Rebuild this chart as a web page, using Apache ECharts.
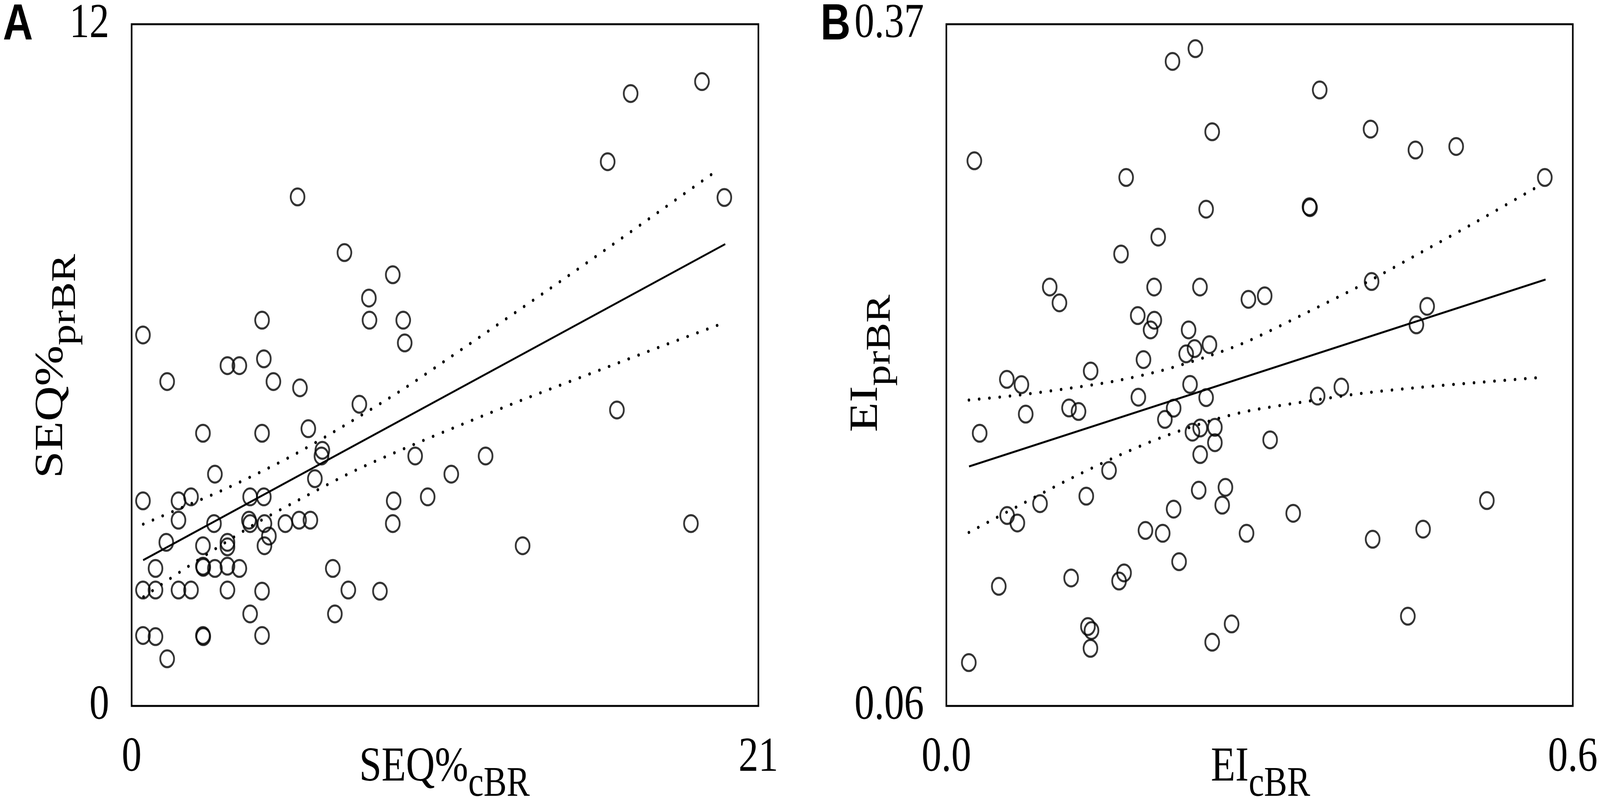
<!DOCTYPE html>
<html>
<head>
<meta charset="utf-8">
<script src="https://cdn.jsdelivr.net/npm/echarts@6/dist/echarts.min.js"></script>
<style>
html,body{margin:0;padding:0;background:#fff;overflow:hidden;}
#chart{width:4996px;height:2058px;transform-origin:0 0;}
</style>
</head>
<body>
<div id="chart"></div>
<script>
// ---------- Panel A: SEQ%cBR (x) vs SEQ%prBR (y) ----------
const scatterA = [
  [19.11,10.99],[16.72,10.78],[15.95,9.58],[19.86,8.95],[5.56,8.96],[7.13,7.98],[8.75,7.59],
  [7.95,7.18],[7.97,6.79],[9.10,6.79],[9.15,6.39],[4.37,6.79],[0.38,6.53],[4.43,6.11],
  [3.21,5.99],[3.61,5.99],[1.19,5.71],[4.75,5.71],[5.64,5.60],[7.63,5.31],[16.26,5.21],
  [2.39,4.80],[4.37,4.80],[5.92,4.88],[6.39,4.50],[6.36,4.40],[9.50,4.40],[11.86,4.40],
  [10.71,4.08],[2.79,4.08],[6.14,4.00],[0.38,3.61],[1.57,3.61],[1.99,3.68],[3.97,3.68],
  [4.43,3.68],[8.78,3.61],[9.92,3.68],[1.57,3.27],[2.76,3.21],[3.93,3.27],[3.97,3.21],
  [4.45,3.21],[5.15,3.21],[5.61,3.27],[5.99,3.27],[8.75,3.21],[18.74,3.21],[4.60,2.99],
  [1.16,2.88],[2.39,2.82],[3.21,2.88],[3.21,2.80],[4.45,2.82],[13.10,2.82],[0.80,2.42],
  [2.39,2.46],[2.40,2.44],[2.79,2.42],[3.21,2.46],[3.61,2.42],[6.74,2.42],[0.38,2.04],
  [0.80,2.04],[1.57,2.04],[1.99,2.04],[3.21,2.04],[4.37,2.02],[7.26,2.04],[8.32,2.02],
  [3.97,1.62],[6.81,1.62],[0.38,1.24],[0.80,1.22],[2.39,1.24],[2.40,1.22],[4.37,1.24],
  [1.19,0.83]
];
const fitLineA = [[0.385,2.566],[19.89,8.13]];
const upperBandA = [[0.39,3.20],[1.68,3.49],[2.97,3.78],[4.25,4.10],[5.54,4.45],[7.14,4.94],
  [9.08,5.57],[10.68,6.14],[13.89,7.30],[15.82,8.01],[17.75,8.73],[19.68,9.45]];
const lowerBandA = [[0.40,1.92],[1.68,2.38],[2.97,2.82],[4.25,3.24],[5.54,3.61],[7.47,4.14],
  [9.40,4.59],[11.32,5.01],[13.25,5.42],[15.82,5.94],[17.75,6.33],[19.68,6.71]];
const xTicksA = [0, 21];
const yTicksA = [0, 12];

// ---------- Panel B: EIcBR (x) vs EIprBR (y) ----------
const scatterB = [
  [0.2385,0.3589],[0.2166,0.3531],[0.3576,0.3401],[0.2546,0.3211],[0.4063,0.3223],[0.4493,0.3128],
  [0.4883,0.3144],[0.0268,0.3079],[0.1722,0.3003],[0.5732,0.3003],[0.2488,0.2859],[0.3483,0.2866],
  [0.3478,0.2870],[0.2029,0.2732],[0.1673,0.2655],[0.0990,0.2505],[0.1083,0.2433],[0.1990,0.2505],
  [0.2429,0.2505],[0.2893,0.2449],[0.3049,0.2465],[0.4073,0.2530],[0.4605,0.2417],[0.4502,0.2333],
  [0.1833,0.2375],[0.1992,0.2354],[0.1956,0.2310],[0.2320,0.2310],[0.2520,0.2243],[0.2377,0.2225],
  [0.2297,0.2201],[0.1888,0.2175],[0.1382,0.2123],[0.0579,0.2085],[0.0719,0.2061],[0.2334,0.2062],
  [0.1839,0.2004],[0.2488,0.2002],[0.3556,0.2009],[0.3783,0.2050],[0.0760,0.1927],[0.1175,0.1955],
  [0.1266,0.1939],[0.2177,0.1954],[0.2093,0.1903],[0.0319,0.1840],[0.2431,0.1864],[0.2357,0.1845],
  [0.2572,0.1867],[0.2572,0.1797],[0.3101,0.1810],[0.2431,0.1743],[0.1558,0.1671],[0.1340,0.1554],
  [0.0897,0.1520],[0.2417,0.1581],[0.2673,0.1594],[0.2642,0.1513],[0.2177,0.1495],[0.3322,0.1476],
  [0.5177,0.1534],[0.0582,0.1466],[0.0680,0.1432],[0.1907,0.1398],[0.2072,0.1385],[0.2875,0.1385],
  [0.4566,0.1404],[0.4083,0.1358],[0.0502,0.1144],[0.1195,0.1182],[0.1702,0.1205],[0.1654,0.1168],
  [0.2229,0.1256],[0.1356,0.0961],[0.1390,0.0943],[0.1380,0.0862],[0.2732,0.0973],[0.2546,0.0890],
  [0.4420,0.1008],[0.0215,0.0797]
];
const fitLineB = [[0.0217,0.1689],[0.5739,0.2539]];
const upperBandB = [[0.0216,0.1991],[0.0680,0.2013],[0.1140,0.2042],[0.1601,0.2076],[0.2060,0.2125],
  [0.2524,0.2193],[0.2890,0.2259],[0.3441,0.2386],[0.3989,0.2517],[0.4541,0.2661],[0.5092,0.2806],[0.5647,0.2957]];
const lowerBandB = [[0.0216,0.1389],[0.0680,0.1507],[0.1140,0.1622],[0.1601,0.1728],[0.2060,0.1821],
  [0.2524,0.1896],[0.2890,0.1941],[0.3441,0.1984],[0.3989,0.2022],[0.4541,0.2049],[0.5092,0.2071],[0.5647,0.2092]];
const xTicksB = [0.0, 0.6];
const yTicksB = [0.06, 0.37];

// ---------- styling ----------
const SERIF = 'Liberation Serif';
const SANS = 'Liberation Sans';
const TICK_FS = 124;
const MAIN_FS = 125;
const SUB_FS = 108;

// The chart is laid out on a 4996x2058 page; if the browser viewport is
// smaller, the whole drawing is scaled to fill it.
const PAGE_W = 4996, PAGE_H = 2058;
const el = document.getElementById('chart');
const sx = (window.innerWidth || PAGE_W) / PAGE_W;
const sy = (window.innerHeight || PAGE_H) / PAGE_H;
if (Math.abs(sx - 1) > 0.001 || Math.abs(sy - 1) > 0.001) {
  el.style.transform = 'scale(' + sx + ',' + sy + ')';
}

function xAxisCfg(grid, min, max, ticks, digits) {
  return {
    gridIndex: grid, type: 'value', min: min, max: max,
    axisLine: {show: false}, axisTick: {show: false}, splitLine: {show: false},
    axisLabel: {
      customValues: ticks,
      formatter: v => Number(v).toFixed(digits),
      margin: 133, verticalAlign: 'middle',
      fontSize: TICK_FS, fontFamily: SERIF, color: '#000'
    }
  };
}
function yAxisCfg(grid, min, max, ticks, digits) {
  return {
    gridIndex: grid, type: 'value', min: min, max: max,
    axisLine: {show: false}, axisTick: {show: false}, splitLine: {show: false},
    axisLabel: {
      customValues: ticks,
      formatter: v => Number(v).toFixed(digits),
      margin: 70, verticalAlign: 'middle',
      fontSize: TICK_FS, fontFamily: SERIF, color: '#000'
    }
  };
}
function scatterCfg(idx, data) {
  return {
    type: 'scatter', xAxisIndex: idx, yAxisIndex: idx, data: data,
    symbol: 'circle', symbolSize: 43, z: 5,
    itemStyle: {color: 'rgba(255,255,255,0)', borderColor: '#000', borderWidth: 5.5},
    emphasis: {disabled: true}
  };
}
function fitCfg(idx, data) {
  return {
    type: 'line', xAxisIndex: idx, yAxisIndex: idx, data: data,
    symbol: 'none', z: 3,
    lineStyle: {color: '#000', width: 5}
  };
}
function bandCfg(idx, data) {
  return {
    type: 'line', xAxisIndex: idx, yAxisIndex: idx, data: data,
    symbol: 'none', smooth: 0.3, z: 3,
    lineStyle: {color: '#000', width: 8, type: [0.1, 32], cap: 'round'}
  };
}
function txt(text, x, y, fs, align, rot, family, weight) {
  return {
    type: 'text', x: x, y: y, rotation: rot || 0, silent: true,
    style: {
      text: text, fontSize: fs, fontFamily: family || SERIF, fontWeight: weight || 'normal',
      fill: '#000', align: align, verticalAlign: 'middle'
    }
  };
}

const chart = echarts.init(el, null, {renderer: 'canvas', width: PAGE_W, height: PAGE_H});
chart.setOption({
  animation: false,
  backgroundColor: '#fff',
  grid: [
    {left: 411, top: 53, width: 1957, height: 1754, show: true, borderColor: '#000', borderWidth: 5, backgroundColor: 'rgba(0,0,0,0)'},
    {left: 2955, top: 53, width: 1956, height: 1754, show: true, borderColor: '#000', borderWidth: 5, backgroundColor: 'rgba(0,0,0,0)'}
  ],
  xAxis: [xAxisCfg(0, 0, 21, xTicksA, 0), xAxisCfg(1, 0, 0.6, xTicksB, 1)],
  yAxis: [yAxisCfg(0, 0, 12, yTicksA, 0), yAxisCfg(1, 0.06, 0.37, yTicksB, 2)],
  series: [
    bandCfg(0, upperBandA), bandCfg(0, lowerBandA), fitCfg(0, fitLineA), scatterCfg(0, scatterA),
    bandCfg(1, upperBandB), bandCfg(1, lowerBandB), fitCfg(1, fitLineB), scatterCfg(1, scatterB)
  ],
  graphic: [
    txt('A', 9, 65, 130, 'left', 0, SANS, 'bold'),
    txt('B', 2562, 65, 130, 'left', 0, SANS, 'bold'),
    // x titles
    txt('SEQ%', 1462, 1965, MAIN_FS, 'right'),
    txt('cBR', 1462, 2009, SUB_FS, 'left'),
    txt('EI', 3899, 1965, MAIN_FS, 'right'),
    txt('cBR', 3899, 2009, SUB_FS, 'left'),
    // y titles (rotated, reading upward)
    txt('SEQ%', 161, 884, MAIN_FS, 'right', Math.PI / 2),
    txt('prBR', 206, 884, SUB_FS, 'left', Math.PI / 2),
    txt('EI', 2705, 988, MAIN_FS, 'right', Math.PI / 2),
    txt('prBR', 2750, 988, SUB_FS, 'left', Math.PI / 2)
  ]
});
</script>
</body>
</html>
